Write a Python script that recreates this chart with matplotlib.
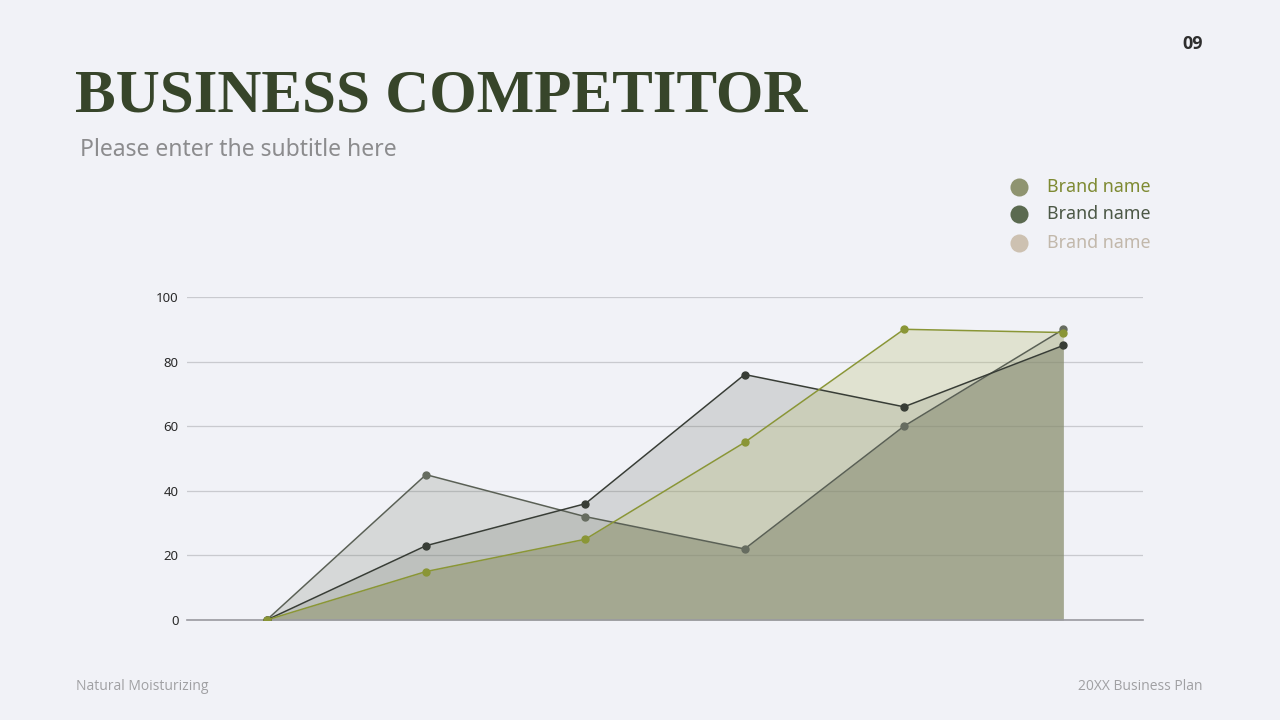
import numpy as np
import matplotlib.pyplot as plt
from matplotlib.lines import Line2D

# data
points = [0, 1, 2, 3, 4, 5]
brand_a = [0, 15, 25, 55, 90, 89]
brand_b = [0, 23, 36, 76, 66, 85]
brand_c = [0, 45, 32, 22, 60, 90]
y_ticks = [0, 20, 40, 60, 80, 100]
legend_names = ["Brand name", "Brand name", "Brand name"]

bg = '#f1f2f7'
plt.rcParams['font.family'] = ['Noto Sans', 'DejaVu Sans']

fig = plt.figure(figsize=(12.8, 7.2), dpi=100, facecolor=bg)

# title block
title = fig.text(75 / 1280, 1 - 97 / 720, "BUSINESS COMPETITOR", fontsize=40,
                 family='Liberation Serif', weight='bold', color='#37452a',
                 va='center', ha='left')
fig.canvas.draw()
w = title.get_window_extent().width
title.set_fontsize(40 * 733 / w)

fig.text(80 / 1280, 1 - 150 / 720, "Please enter the subtitle here", fontsize=16.5,
         color='#8c8c8e', va='center', ha='left')
fig.text(1203 / 1280, 1 - 44 / 720, "09", fontsize=13, weight='bold',
         family='Open Sans', color='#2e2e2e', va='center', ha='right')
fig.text(76 / 1280, 1 - 687 / 720, "Natural Moisturizing", fontsize=10,
         color='#a0a0a3', va='center', ha='left', family='Open Sans')
fig.text(1202 / 1280, 1 - 687 / 720, "20XX Business Plan", fontsize=10,
         color='#a0a0a3', va='center', ha='right', family='Open Sans')

# legend, drawn by hand to match the slide
dot_colors = ['#8f9470', '#5b6a50', '#cdc1b1']
text_colors = ['#7e8a32', '#4c5846', '#c2b8ab']
legend_y = [187, 214, 243]
for name, dc, tc, ly in zip(legend_names, dot_colors, text_colors, legend_y):
    fig.add_artist(Line2D([1019 / 1280], [1 - ly / 720], marker='o', ms=13,
                          color=dc, mec='none', transform=fig.transFigure))
    fig.text(1047 / 1280, 1 - ly / 720, name, fontsize=12.8, color=tc,
             va='center', ha='left')

# chart
ax = fig.add_axes([187 / 1280, 1 - 620 / 720, (1143 - 187) / 1280, (620 - 297) / 720])
ax.set_facecolor('none')

x = np.array(points)
a = np.array(brand_a)
b = np.array(brand_b)
c = np.array(brand_c)

ax.fill_between(x, 0, c, color='#767e6c', alpha=0.22, lw=0, zorder=2)
ax.fill_between(x, 0, b, color='#6c7266', alpha=0.22, lw=0, zorder=2)
ax.fill_between(x, 0, a, color='#b9be78', alpha=0.30, lw=0, zorder=2)

# darker shade where all three areas overlap (lower envelope of the lines)
xs = np.linspace(x[0], x[-1], 1201)
low = np.minimum(np.minimum(np.interp(xs, x, a), np.interp(xs, x, b)),
                 np.interp(xs, x, c))
ax.fill_between(xs, 0, low, color='#6e735f', alpha=0.30, lw=0, zorder=2)

ax.plot(x, c, color='#5a6055', lw=1.1, marker='o', ms=5, mfc='#666c60',
        mec='#666c60', zorder=4)
ax.plot(x, b, color='#383d36', lw=1.1, marker='o', ms=5, zorder=4)
ax.plot(x, a, color='#8a9636', lw=1.1, marker='o', ms=5, zorder=5)

ax.set_xlim(-0.5, 5.5)
ax.set_ylim(0, 100)
ax.set_yticks(y_ticks)
ax.set_xticks([])
ax.grid(axis='y', color='#c9cacf', lw=0.9, zorder=1)
ax.set_axisbelow(True)
for s in ['top', 'right', 'left']:
    ax.spines[s].set_visible(False)
ax.spines['bottom'].set_color('#9a9aa0')
ax.spines['bottom'].set_linewidth(1.2)
ax.tick_params(axis='y', length=0, pad=6, labelsize=9.5, labelcolor='#2a2a2a')

fig.savefig('out.png', dpi=100, facecolor=bg)
